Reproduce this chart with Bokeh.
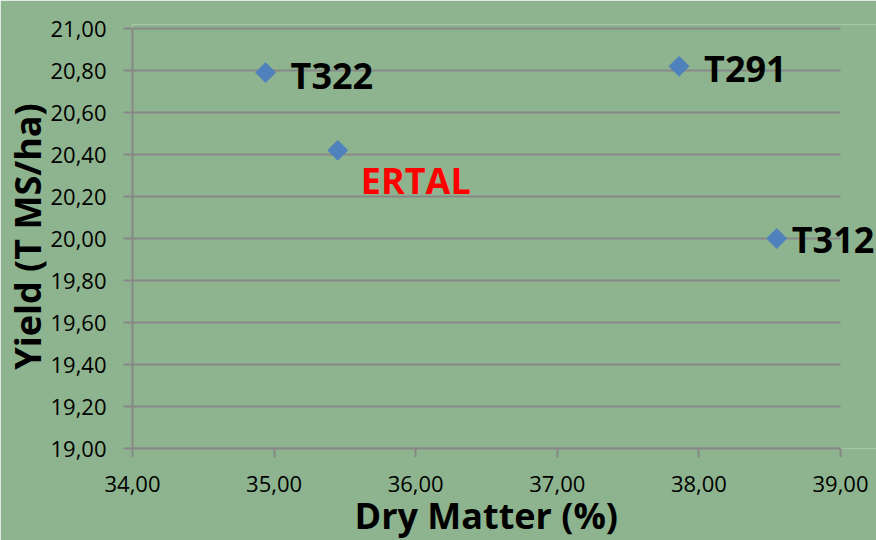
import math
from bokeh.plotting import figure
from bokeh.models import ColumnDataSource, LabelSet, FixedTicker, CustomJSTickFormatter, Range1d, Title
from bokeh.core.properties import value
from bokeh.embed import file_html
from bokeh.resources import INLINE

# ---- data ----
names = ["T322", "ERTAL", "T291", "T312"]
dry_matter = [34.94, 35.45, 37.86, 38.55]
yield_t = [20.79, 20.42, 20.82, 20.00]
x_ticks = [34, 35, 36, 37, 38, 39]
y_ticks = [19.0, 19.2, 19.4, 19.6, 19.8, 20.0, 20.2, 20.4, 20.6, 20.8, 21.0]

# ---- styles ----
label_colors = ["black", "#ff0000", "black", "black"]
label_dx = [25, 23, 25, 15]
label_dy = [-3, -30, -2, -1]

BG = "#8db48e"
GRID = "#878787"
FONT = "Open Sans"

x_lo, x_hi = x_ticks[0], x_ticks[-1]
y_lo, y_hi = y_ticks[0], y_ticks[-1]
px_per_x = 141.6
px_per_y = 210.0

p = figure(width=876, height=540, output_backend="svg", toolbar_location=None,
           x_range=Range1d(x_lo, x_lo + (876 - 132) / px_per_x),
           y_range=Range1d(y_lo, y_hi + 4 / px_per_y),
           background_fill_color=BG, border_fill_color=BG,
           min_border_left=132, min_border_right=0, min_border_top=24, min_border_bottom=92)
p.outline_line_color = None
p.xgrid.visible = False
p.ygrid.visible = False

# horizontal gridlines spanning only the x tick extent
p.segment(x0=[x_lo] * len(y_ticks), x1=[x_hi] * len(y_ticks), y0=y_ticks, y1=y_ticks,
          line_color=GRID, line_width=2)

fmt = CustomJSTickFormatter(code="return tick.toFixed(2).replace('.', ',');")
p.xaxis.ticker = FixedTicker(ticks=x_ticks)
p.yaxis.ticker = FixedTicker(ticks=y_ticks)
p.xaxis.bounds = (x_lo, x_hi)
p.yaxis.bounds = (y_lo, y_hi)
for ax in (p.xaxis[0], p.yaxis[0]):
    ax.formatter = fmt
    ax.axis_line_color = GRID
    ax.axis_line_width = 2
    ax.major_tick_line_color = GRID
    ax.major_tick_line_width = 2
    ax.major_tick_in = 0
    ax.major_tick_out = 9
    ax.minor_tick_line_color = None
    ax.major_label_text_font = FONT
    ax.major_label_text_font_size = "22px"
    ax.major_label_text_color = "black"
    ax.axis_label_text_font = FONT
    ax.axis_label_text_font_size = "36px"
    ax.axis_label_text_font_style = "bold"
    ax.axis_label_text_color = "black"

p.yaxis.axis_label = "Yield (T MS/ha)"
p.xaxis.major_label_standoff = 18
p.yaxis.major_label_standoff = 17
p.yaxis.axis_label_standoff = -5

# x-axis title, positioned over the 34-39 span (frame extends right for labels)
xtitle = Title(text="Dry Matter (%)", align="left", offset=222, standoff=-11,
               text_font=FONT, text_font_size="36px", text_font_style="bold",
               text_color="black")
p.add_layout(xtitle, "below")

src = ColumnDataSource(dict(x=dry_matter, y=yield_t, name=names, color=label_colors,
                            dx=label_dx, dy=label_dy))
p.scatter("x", "y", source=src, marker="square", size=14, angle=math.pi / 4,
          fill_color="#4f81bd", line_color="#4f81bd")

labels = LabelSet(x="x", y="y", text="name", source=src, x_offset="dx", y_offset="dy",
                  text_color="color", text_font=value(FONT), text_font_size="36px",
                  text_font_style="bold", text_baseline="middle", text_align="left")
p.add_layout(labels)

open("out.html", "w").write(file_html(p, INLINE))
